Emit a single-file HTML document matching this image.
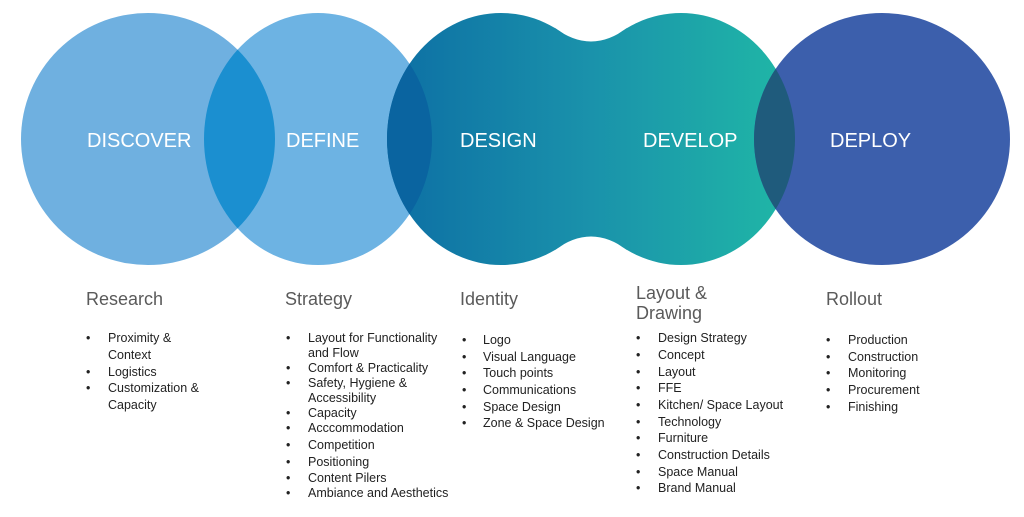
<!DOCTYPE html>
<html><head><meta charset="utf-8"><style>
html,body{margin:0;padding:0;background:#fff;}
svg{display:block;}
.t{font-family:"Liberation Sans",sans-serif;font-size:20px;fill:#fff;}
.h{font-family:"Liberation Sans",sans-serif;font-size:18px;fill:#5a5a5a;}
.i{font-family:"Liberation Sans",sans-serif;font-size:12.5px;fill:#222;}
</style></head><body>
<svg width="1024" height="517" viewBox="0 0 1024 517" xmlns="http://www.w3.org/2000/svg">
<defs>
<linearGradient id="g" x1="388" y1="0" x2="795" y2="0" gradientUnits="userSpaceOnUse">
<stop offset="0" stop-color="#0d6fa4"/><stop offset="0.5" stop-color="#1a92ab"/><stop offset="1" stop-color="#20b8a6"/>
</linearGradient>
<clipPath id="c1"><ellipse cx="148" cy="139" rx="127" ry="126"/></clipPath>
<clipPath id="c2"><ellipse cx="318" cy="139" rx="114" ry="126"/></clipPath>
<clipPath id="c5"><ellipse cx="882" cy="139" rx="128" ry="126"/></clipPath>
</defs>
<ellipse cx="148" cy="139" rx="127" ry="126" fill="#6fb0e0"/>
<ellipse cx="318" cy="139" rx="114" ry="126" fill="#6db3e3"/>
<ellipse cx="318" cy="139" rx="114" ry="126" fill="#1b8fd0" clip-path="url(#c1)"/>
<g fill="url(#g)">
<ellipse cx="501" cy="139" rx="114" ry="126"/>
<ellipse cx="681" cy="139" rx="114" ry="126"/>
<path d="M555,28 Q591,55 627,28 L627,250 Q591,223 555,250 Z"/>
</g>
<ellipse cx="501" cy="139" rx="114" ry="126" fill="#0a64a0" clip-path="url(#c2)"/>
<ellipse cx="882" cy="139" rx="128" ry="126" fill="#3c5fac"/>
<ellipse cx="681" cy="139" rx="114" ry="126" fill="#1f5b7c" clip-path="url(#c5)"/>
<text class="t" x="87" y="147">DISCOVER</text>
<text class="t" x="286" y="147">DEFINE</text>
<text class="t" x="460" y="147">DESIGN</text>
<text class="t" x="643" y="147">DEVELOP</text>
<text class="t" x="830" y="147">DEPLOY</text>

<text class="h" x="86" y="305">Research</text>
<text class="h" x="285" y="305">Strategy</text>
<text class="h" x="460" y="305">Identity</text>
<text class="h" x="636" y="299">Layout &amp;</text>
<text class="h" x="636" y="319">Drawing</text>
<text class="h" x="826" y="305">Rollout</text>

<g class="i">
<text x="86" y="342">•</text><text x="108" y="342">Proximity &amp;</text>
<text x="108" y="359">Context</text>
<text x="86" y="376">•</text><text x="108" y="376">Logistics</text>
<text x="86" y="392">•</text><text x="108" y="392">Customization &amp;</text>
<text x="108" y="409">Capacity</text>

<text x="286" y="342">•</text><text x="308" y="342">Layout for Functionality</text>
<text x="308" y="357">and Flow</text>
<text x="286" y="372">•</text><text x="308" y="372">Comfort &amp; Practicality</text>
<text x="286" y="387">•</text><text x="308" y="387">Safety, Hygiene &amp;</text>
<text x="308" y="402">Accessibility</text>
<text x="286" y="417">•</text><text x="308" y="417">Capacity</text>
<text x="286" y="432">•</text><text x="308" y="432">Acccommodation</text>
<text x="286" y="449">•</text><text x="308" y="449">Competition</text>
<text x="286" y="466">•</text><text x="308" y="466">Positioning</text>
<text x="286" y="482">•</text><text x="308" y="482">Content Pilers</text>
<text x="286" y="497">•</text><text x="308" y="497">Ambiance and Aesthetics</text>

<text x="462" y="344">•</text><text x="483" y="344">Logo</text>
<text x="462" y="361">•</text><text x="483" y="361">Visual Language</text>
<text x="462" y="377">•</text><text x="483" y="377">Touch points</text>
<text x="462" y="394">•</text><text x="483" y="394">Communications</text>
<text x="462" y="411">•</text><text x="483" y="411">Space Design</text>
<text x="462" y="427">•</text><text x="483" y="427">Zone &amp; Space Design</text>

<text x="636" y="342">•</text><text x="658" y="342">Design Strategy</text>
<text x="636" y="359">•</text><text x="658" y="359">Concept</text>
<text x="636" y="376">•</text><text x="658" y="376">Layout</text>
<text x="636" y="392">•</text><text x="658" y="392">FFE</text>
<text x="636" y="409">•</text><text x="658" y="409">Kitchen/ Space Layout</text>
<text x="636" y="426">•</text><text x="658" y="426">Technology</text>
<text x="636" y="442">•</text><text x="658" y="442">Furniture</text>
<text x="636" y="459">•</text><text x="658" y="459">Construction Details</text>
<text x="636" y="476">•</text><text x="658" y="476">Space Manual</text>
<text x="636" y="492">•</text><text x="658" y="492">Brand Manual</text>

<text x="826" y="344">•</text><text x="848" y="344">Production</text>
<text x="826" y="361">•</text><text x="848" y="361">Construction</text>
<text x="826" y="377">•</text><text x="848" y="377">Monitoring</text>
<text x="826" y="394">•</text><text x="848" y="394">Procurement</text>
<text x="826" y="411">•</text><text x="848" y="411">Finishing</text>
</g>
</svg>
</body></html>
